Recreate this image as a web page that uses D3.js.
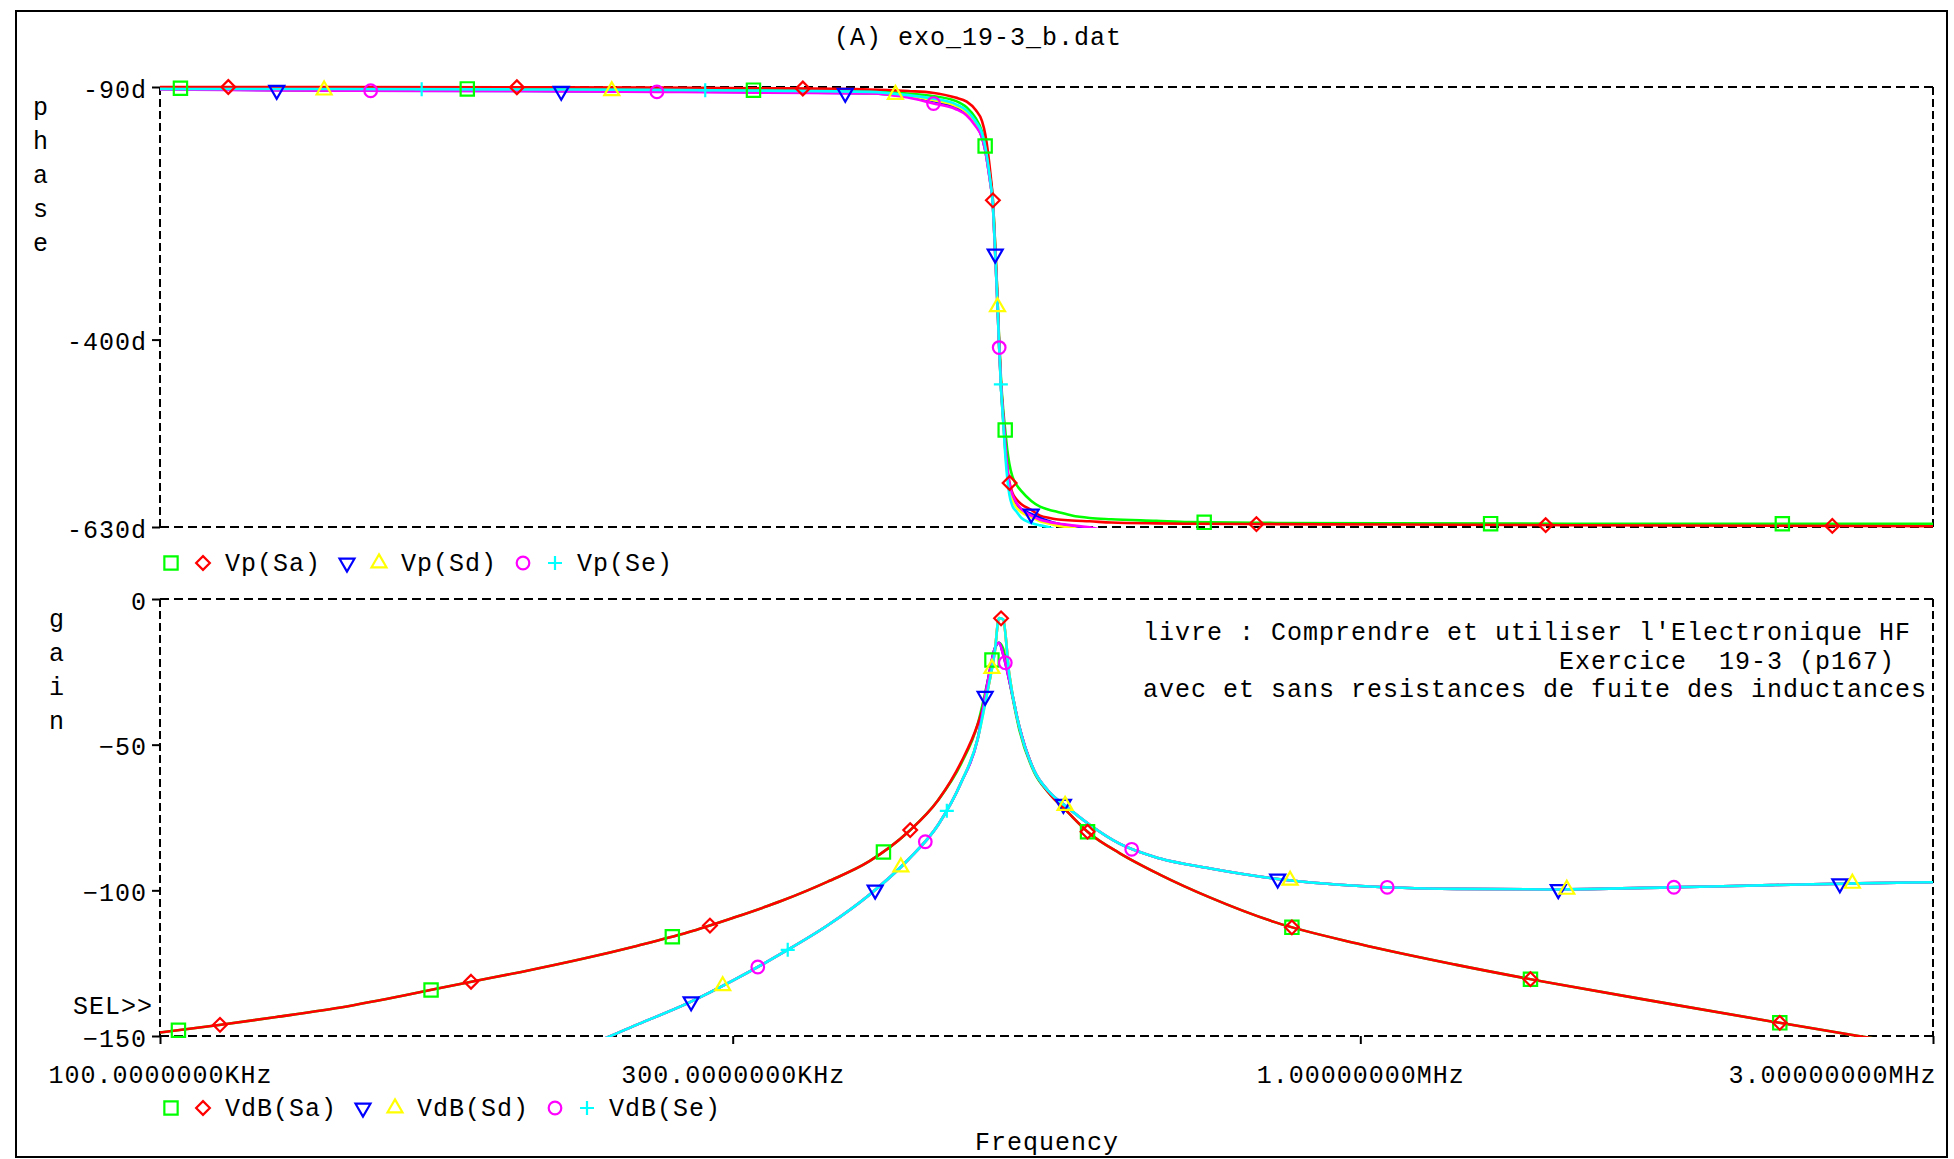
<!DOCTYPE html>
<html>
<head>
<meta charset="utf-8">
<title>exo_19-3_b</title>
<script src="https://cdn.jsdelivr.net/npm/d3@7"></script>
<style>
  body { margin: 0; background: #fff; }
  svg { display: block; }
  text { font-family: 'Liberation Mono', 'DejaVu Sans Mono', monospace; font-size: 25px; letter-spacing: 1px; fill: #000; }
</style>
</head>
<body>
<div id="chart"></div>
<script>
// frequencies in kHz, phase in degrees, gain in dB
const phaseFreqK = [100, 140, 200, 260, 320, 390, 420, 440, 460, 470, 478, 484, 487, 490, 492, 494, 496, 498, 500, 502, 504, 506, 508, 510, 513, 517, 522, 532, 541, 551, 558, 575, 595, 620, 676, 720, 850, 1050, 1500, 2200, 3000]
const vpSa1 = [-91.5, -92, -92.5, -93, -94, -95, -98, -101, -107, -115, -128, -145, -163, -185, -203, -226, -274, -330, -395, -450, -485, -511, -535, -552, -568, -578, -586, -598, -605, -609, -611, -616, -619, -620.5, -622.5, -624, -625, -625.5, -626, -626, -626]
const vpSa2 = [-90, -90, -90.3, -90.8, -91.5, -93, -95, -97, -103, -108, -118, -132, -148, -175, -198, -225, -275, -332, -398, -455, -492, -528, -557, -574, -588, -596, -602, -609, -616, -619, -620.5, -622, -623, -624.5, -625.6, -626, -626.5, -627, -627.8, -628.5, -629]
const vpSd1 = [-92.5, -94.5, -95, -95.5, -96.5, -98, -102, -107, -115, -123, -136, -152, -168, -192, -210, -232, -284, -340, -404, -460, -497, -533, -560, -580, -594, -603, -608, -614, -619, -623, -625.5, -629, -633, -640, -650, -656, -665, -672, -680, -686, -690]
const vpSd2 = [-92.5, -94, -94.5, -95, -96, -97.5, -101, -106, -113, -121, -134, -150, -166, -190, -209, -231, -283, -341, -404, -460, -498, -535, -563, -583, -597, -606, -612, -618, -623, -626, -628, -631, -636, -642, -652, -658, -666, -673, -681, -687, -691]
const vpSe1 = [-93, -94.5, -95, -96, -97, -98, -103, -110, -117, -125, -138, -152, -168, -192, -210, -232, -284, -341, -404, -458, -494, -528, -556, -576, -590, -600, -608, -616, -621, -624, -625.5, -628, -630.5, -636, -645, -652, -662, -670, -678, -684, -688]
const vpSe2 = [-92.5, -92.5, -93, -93.5, -94.5, -96, -100, -104, -111, -119, -132, -147, -163, -188, -208, -232, -282, -340, -404, -460, -500, -540, -570, -590, -604, -611, -619, -625, -628, -630.5, -634, -640, -648, -655, -665, -670, -678, -684, -690, -694, -698]

const gainFreqK = [100, 112, 125, 140, 160, 180, 200, 225, 250, 275, 300, 330, 360, 390, 420, 445, 465, 480, 490, 496, 500, 504, 510, 520, 535, 550, 570, 595, 630, 680, 750, 850, 1000, 1200, 1450, 1800, 2200, 2600, 3000]
const vdbSa1 = [-148.8, -146.2, -143.5, -140.5, -136, -131.7, -128, -123.5, -119, -114.5, -109.5, -103.5, -97, -90, -80, -69, -56.5, -43, -27, -17, -15, -17, -28, -45, -59.5, -66.5, -73, -80.5, -87.2, -94.5, -102.5, -111, -118.5, -125.5, -132, -138.8, -145, -150, -154]
const vdbSa2 = [-148.8, -146.2, -143.5, -140.5, -136, -131.7, -128, -123.5, -119, -114.5, -109.5, -103.5, -97, -90, -80, -69, -56, -43, -30, -18, -6.5, -7, -26, -44, -59, -66.5, -73, -80.5, -87.2, -94.5, -102.5, -111, -118.5, -125.5, -132, -138.8, -145, -150, -154]
const vdbSd1 = [-207, -200, -193, -186, -177, -169, -162, -154, -146, -138.8, -131, -121.5, -112, -101.5, -89.5, -77.5, -63, -48, -27, -17, -15, -19, -28, -44, -59, -66, -71.5, -77.5, -84, -89, -92.5, -96, -98.5, -99.5, -99.7, -99, -98.2, -97.6, -97.2]
const vdbSd2 = [-207, -200, -193, -186, -177, -169, -162, -154, -146, -138.8, -131, -121.5, -112, -101.5, -89.5, -77.5, -63, -48, -30, -18, -6.5, -7, -26, -44, -59, -66, -71.5, -77.5, -84, -89, -92.5, -96, -98.5, -99.5, -99.7, -99, -98.2, -97.6, -97.2]
const vdbSe1 = [-207, -200, -193, -186, -177, -169, -162, -154, -146, -138.8, -131, -121.5, -112, -101.5, -89.5, -77.5, -63, -48, -27, -17, -15, -19, -28, -44, -59, -66, -71.5, -77.5, -84, -89, -92.5, -96, -98.5, -99.5, -99.7, -99, -98.2, -97.6, -97.2]
const vdbSe2 = [-207, -200, -193, -186, -177, -169, -162, -154, -146, -138.8, -131, -121.5, -112, -101.5, -89.5, -77.5, -63, -48, -30, -18, -6.5, -7, -26, -44, -59, -66, -71.5, -77.5, -84, -89, -92.5, -96, -98.5, -99.5, -99.7, -99, -98.2, -97.6, -97.2]

// frequencies (kHz) where each trace carries its symbol
const vpSa1Marks = [104, 180.3, 312.2, 486.9, 506, 741.2, 1284, 2247]
const vpSa2Marks = [114, 198.3, 343.2, 494.2, 510.3, 819.3, 1427, 2473]
const vpSd1Marks = [125.1, 215.9, 372.3, 496.4, 531.9]
const vpSd2Marks = [137, 237.9, 409.9, 498.6]
const vpSe1Marks = [149.8, 259.4, 441, 500.2]
const vpSe2Marks = [165.2, 284.6, 501.8]
const vdbSa1Marks = [103.6, 168.2, 267.2, 400.6, 493.3, 592.6, 877, 1386, 2236]
const vdbSa2Marks = [112.2, 181.6, 287.2, 421.7, 502, 592.6, 877, 1386, 2236]
const vdbSd1Marks = [277, 394.3, 486.9, 565.8, 853.4, 1462, 2509]
const vdbSd2Marks = [294.3, 414.2, 493.3, 567.6, 874, 1486, 2570]
const vdbSe1Marks = [314.8, 434.1, 506.1, 645, 1053, 1825]
const vdbSe2Marks = [333.4, 452.4]

const phaseTicks = [-90, -400, -630]
const gainTicks = [0, -50, -100, -150]
const freqTicks = [100e3, 300e3, 1e6, 3e6]
const freqLabels = ['100.0000000KHz', '300.0000000KHz', '1.00000000MHz', '3.00000000MHz']
const phaseLegend = [['Vp(Sa)', 0, 1], ['Vp(Sd)', 2, 3], ['Vp(Se)', 4, 5]]
const gainLegend = [['VdB(Sa)', 0, 1], ['VdB(Sd)', 2, 3], ['VdB(Se)', 4, 5]]
const noteLines = [
  "livre : Comprendre et utiliser l'Electronique HF",
  '                          Exercice  19-3 (p167)',
  'avec et sans resistances de fuite des inductances',
]

const traces = [
  { color: '#00ff00', symbol: 'square', phase: vpSa1, gain: vdbSa1, phaseMarks: vpSa1Marks, gainMarks: vdbSa1Marks },
  { color: '#ff0000', symbol: 'diamond', phase: vpSa2, gain: vdbSa2, phaseMarks: vpSa2Marks, gainMarks: vdbSa2Marks },
  { color: '#0000ff', symbol: 'triDown', phase: vpSd1, gain: vdbSd1, phaseMarks: vpSd1Marks, gainMarks: vdbSd1Marks },
  { color: '#ffff00', symbol: 'triUp', phase: vpSd2, gain: vdbSd2, phaseMarks: vpSd2Marks, gainMarks: vdbSd2Marks },
  { color: '#ff00ff', symbol: 'circle', phase: vpSe1, gain: vdbSe1, phaseMarks: vpSe1Marks, gainMarks: vdbSe1Marks },
  { color: '#00ffff', symbol: 'plus', phase: vpSe2, gain: vdbSe2, phaseMarks: vpSe2Marks, gainMarks: vdbSe2Marks },
]

const width = 1954
const height = 1159
const plotLeft = 160
const plotRight = 1933
const phaseTop = 87
const phaseBottom = 527
const gainTop = 599
const gainBottom = 1036

const x = d3.scaleLog().domain([100e3, 3e6]).range([plotLeft, plotRight])
const yPhase = d3.scaleLinear().domain([-630, -90]).range([phaseBottom, phaseTop])
const yGain = d3.scaleLinear().domain([-150, 0]).range([gainBottom, gainTop])

const svg = d3.select('#chart').append('svg').attr('width', width).attr('height', height)

svg
  .append('rect')
  .attr('x', 16)
  .attr('y', 11)
  .attr('width', 1931)
  .attr('height', 1146)
  .attr('fill', 'none')
  .attr('stroke', '#000')
  .attr('stroke-width', 2)

const defs = svg.append('defs')
defs
  .append('clipPath')
  .attr('id', 'clip-phase')
  .append('rect')
  .attr('x', plotLeft)
  .attr('y', phaseTop - 3)
  .attr('width', plotRight - plotLeft)
  .attr('height', phaseBottom - phaseTop + 4)
defs
  .append('clipPath')
  .attr('id', 'clip-gain')
  .append('rect')
  .attr('x', plotLeft)
  .attr('y', gainTop - 3)
  .attr('width', plotRight - plotLeft)
  .attr('height', gainBottom - gainTop + 4)

// dashed frames
function frame(top, bottom) {
  const g = svg.append('g').attr('stroke', '#000').attr('stroke-width', 2).attr('fill', 'none')
  g.append('line').attr('x1', plotLeft).attr('x2', plotRight).attr('y1', top).attr('y2', top).attr('stroke-dasharray', '9,5')
  g.append('line').attr('x1', plotLeft).attr('x2', plotRight).attr('y1', bottom).attr('y2', bottom).attr('stroke-dasharray', '9,5')
  g.append('line').attr('x1', plotLeft).attr('x2', plotLeft).attr('y1', top).attr('y2', bottom).attr('stroke-dasharray', '8,4')
  g.append('line').attr('x1', plotRight).attr('x2', plotRight).attr('y1', top).attr('y2', bottom).attr('stroke-dasharray', '8,4')
}
frame(phaseTop, phaseBottom)
frame(gainTop, gainBottom)

svg
  .append('g')
  .attr('transform', `translate(${plotLeft},0)`)
  .call(d3.axisLeft(yPhase).tickValues(phaseTicks).tickFormat((d) => d + 'd').tickSizeInner(8).tickSizeOuter(0).tickPadding(5))
  .call((g) => g.select('.domain').remove())
  .call((g) => g.selectAll('.tick line').attr('stroke-width', 2))
  .call((g) => g.selectAll('.tick text').attr('dy', '0.4em'))

svg
  .append('g')
  .attr('transform', `translate(${plotLeft},0)`)
  .call(d3.axisLeft(yGain).tickValues(gainTicks).tickSizeInner(8).tickSizeOuter(0).tickPadding(5))
  .call((g) => g.select('.domain').remove())
  .call((g) => g.selectAll('.tick line').attr('stroke-width', 2))
  .call((g) => g.selectAll('.tick text').attr('dy', '0.4em'))

svg
  .append('g')
  .attr('transform', `translate(0,${gainBottom})`)
  .call(d3.axisBottom(x).tickValues(freqTicks).tickFormat((d, i) => freqLabels[i]).tickSizeInner(8).tickSizeOuter(0).tickPadding(21))
  .call((g) => g.select('.domain').remove())
  .call((g) => g.selectAll('.tick line').attr('stroke-width', 2))
  .call((g) => g.selectAll('.tick:last-of-type text').attr('text-anchor', 'end').attr('x', 3))

const symbolTypes = {
  square: [d3.symbolSquare2, 225, 0],
  diamond: [d3.symbolDiamond2, 120, 0],
  triDown: [d3.symbolTriangle2, 160, 180],
  triUp: [d3.symbolTriangle2, 160, 0],
  circle: [d3.symbolCircle, 125, 0],
  plus: [d3.symbolPlus || d3.symbolCross, 66, 0],
}

function drawSymbol(px, py, trace) {
  const [type, size, rot] = symbolTypes[trace.symbol]
  svg
    .append('path')
    .attr('d', d3.symbol(type, size)())
    .attr('transform', `translate(${px},${py}) rotate(${rot})`)
    .attr('fill', 'none')
    .attr('stroke', trace.color)
    .attr('stroke-width', 2.2)
}

function pointAtX(node, targetX) {
  let lo = 0
  let hi = node.getTotalLength()
  for (let i = 0; i < 40; i++) {
    const mid = (lo + hi) / 2
    if (node.getPointAtLength(mid).x < targetX) lo = mid
    else hi = mid
  }
  return node.getPointAtLength((lo + hi) / 2)
}

function drawPlot(freqs, yScale, key, marksKey, clipId) {
  const line = d3
    .line()
    .curve(d3.curveMonotoneX)
    .x((v, i) => x(freqs[i] * 1e3))
    .y((v) => yScale(v))
  const nodes = traces.map((t) =>
    svg
      .append('path')
      .datum(t[key])
      .attr('clip-path', `url(#${clipId})`)
      .attr('fill', 'none')
      .attr('stroke', t.color)
      .attr('stroke-width', 2.6)
      .attr('stroke-linejoin', 'round')
      .attr('d', line)
      .node(),
  )
  traces.forEach((t, i) => {
    for (const fk of t[marksKey]) {
      const p = pointAtX(nodes[i], x(fk * 1e3))
      drawSymbol(p.x, p.y, t)
    }
  })
}

drawPlot(phaseFreqK, yPhase, 'phase', 'phaseMarks', 'clip-phase')
drawPlot(gainFreqK, yGain, 'gain', 'gainMarks', 'clip-gain')

function drawLegend(groups, symY, textY) {
  let cx = 163
  for (const [label, a, b] of groups) {
    drawSymbol(cx + 8, symY, traces[a])
    drawSymbol(cx + 40, symY, traces[b])
    svg.append('text').attr('x', cx + 62).attr('y', textY).text(label)
    cx += (label.length + 5) * 16
  }
}
drawLegend(phaseLegend, 563, 571)
drawLegend(gainLegend, 1108, 1116)

svg.append('text').attr('x', 978).attr('y', 45).attr('text-anchor', 'middle').text('(A) exo_19-3_b.dat')
svg.append('text').attr('x', 1047).attr('y', 1150).attr('text-anchor', 'middle').text('Frequency')
svg.append('text').attr('x', 153).attr('y', 1014).attr('text-anchor', 'end').text('SEL>>')

function verticalLabel(word, lx, firstY) {
  const t = svg.append('text').attr('text-anchor', 'middle')
  word.split('').forEach((ch, i) => {
    t.append('tspan').attr('x', lx).attr('y', firstY + i * 34).text(ch)
  })
}
verticalLabel('phase', 41, 115)
verticalLabel('gain', 57, 627)

noteLines.forEach((s, i) => {
  svg
    .append('text')
    .attr('x', 1143)
    .attr('y', 640 + i * 28.7)
    .style('white-space', 'pre')
    .text(s)
})
</script>
</body>
</html>
